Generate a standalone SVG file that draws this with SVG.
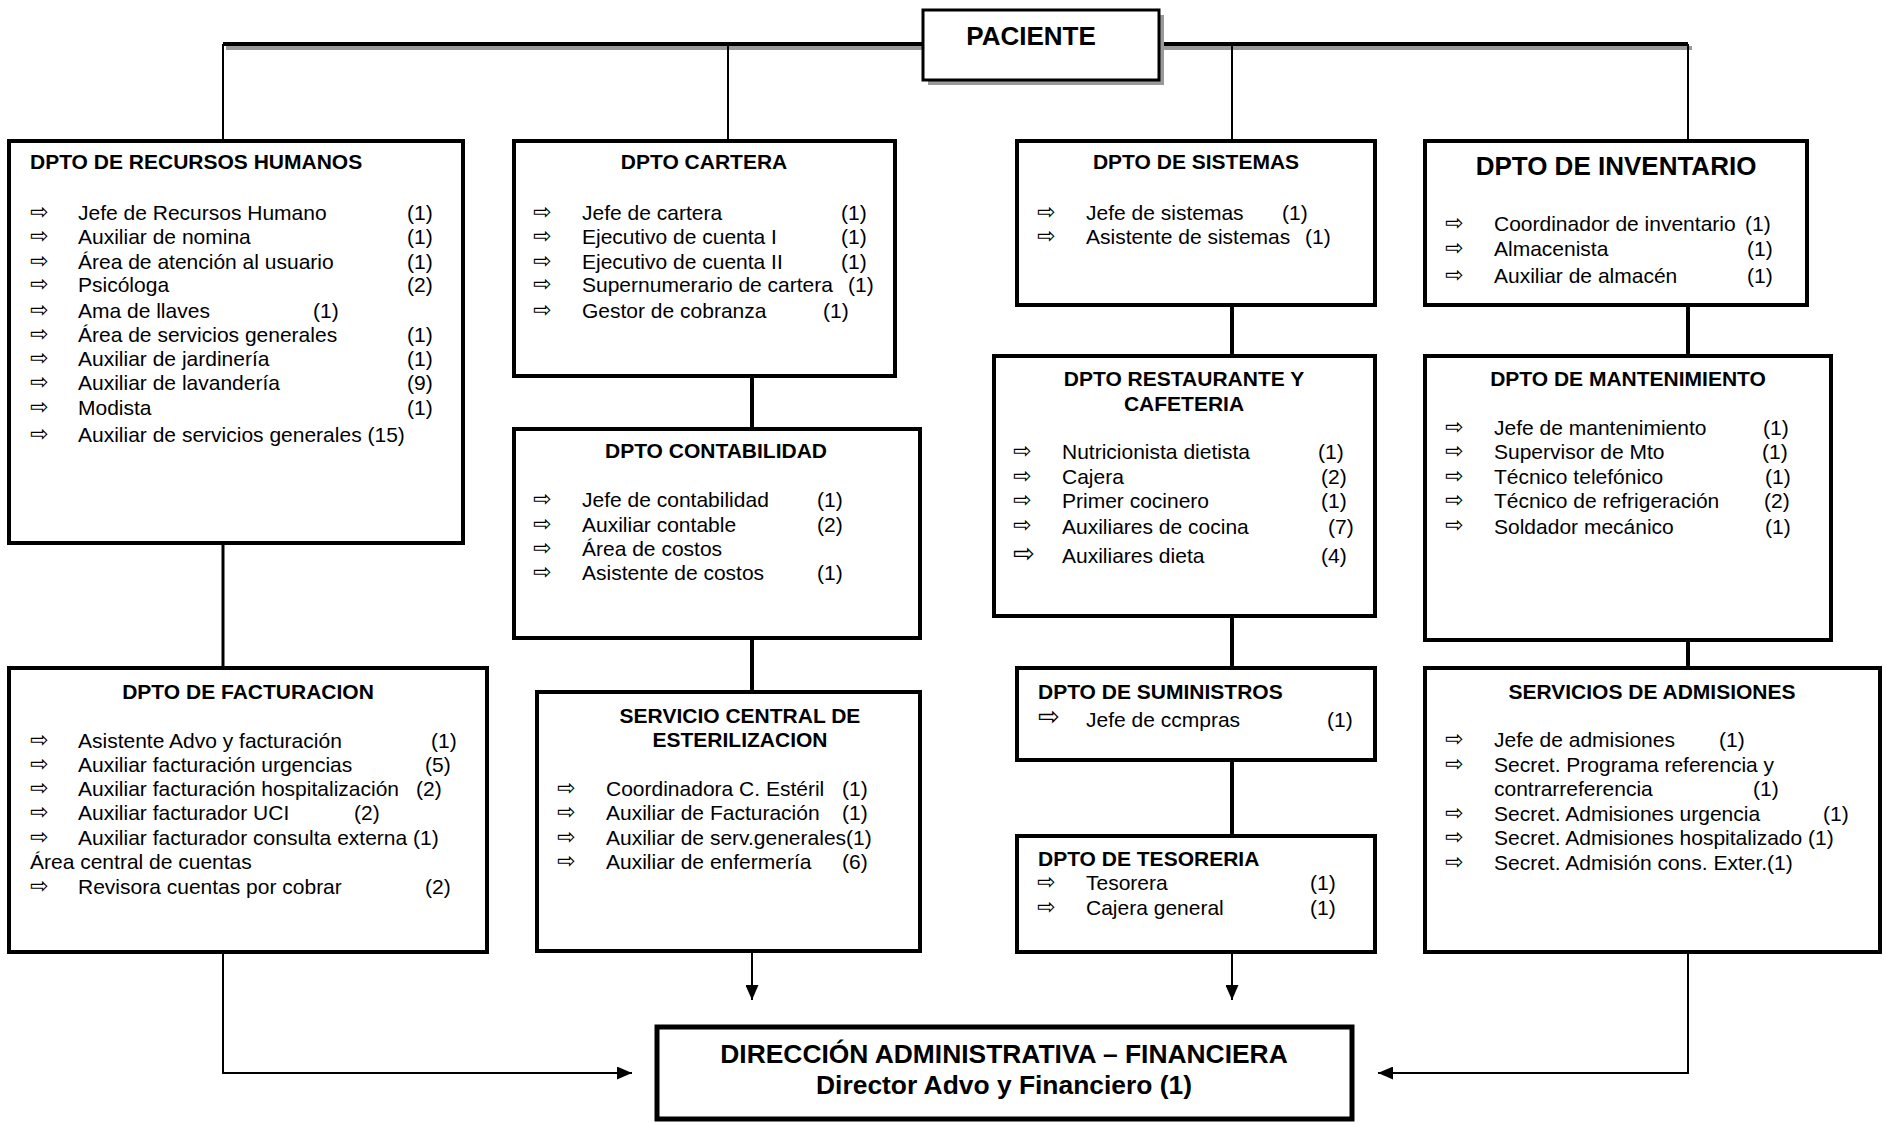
<svg xmlns="http://www.w3.org/2000/svg" width="1887" height="1123" viewBox="0 0 1887 1123">
<style>
.box{fill:#fff;stroke:#000;stroke-width:4}
.t{font-family:"Liberation Sans",Arial,sans-serif;font-size:21px;fill:#000}
.h{font-weight:bold}
.big{font-size:26px;font-weight:bold}
.mid{text-anchor:middle}
.b{font-family:"DejaVu Sans",sans-serif;font-size:22px;fill:#000}
.bb{font-size:26px}
.c{stroke:#000;fill:none}
</style>
<defs>
<marker id="ah" markerUnits="userSpaceOnUse" markerWidth="15" markerHeight="13" refX="15" refY="6.5" orient="auto">
<path d="M0,0 L15,6.5 L0,13 z" fill="#000"/>
</marker>
</defs>

<g id="connectors">
<line x1="226" y1="48" x2="1692" y2="48" stroke="#999" stroke-width="4"/>
<line class="c" x1="223" y1="44" x2="1688" y2="44" stroke-width="4"/>
<line class="c" x1="223" y1="44" x2="223" y2="140" stroke-width="2"/>
<line class="c" x1="728" y1="44" x2="728" y2="140" stroke-width="2"/>
<line class="c" x1="1232" y1="44" x2="1232" y2="140" stroke-width="2"/>
<line class="c" x1="1688" y1="44" x2="1688" y2="140" stroke-width="2"/>
<line class="c" x1="223" y1="545" x2="223" y2="667" stroke-width="3"/>
<line class="c" x1="752" y1="378" x2="752" y2="428" stroke-width="4"/>
<line class="c" x1="752" y1="640" x2="752" y2="691" stroke-width="4"/>
<line class="c" x1="1232" y1="307" x2="1232" y2="355" stroke-width="4"/>
<line class="c" x1="1232" y1="618" x2="1232" y2="667" stroke-width="4"/>
<line class="c" x1="1232" y1="762" x2="1232" y2="835" stroke-width="4"/>
<line class="c" x1="1688" y1="307" x2="1688" y2="355" stroke-width="4"/>
<line class="c" x1="1688" y1="642" x2="1688" y2="667" stroke-width="4"/>
<line class="c" x1="752" y1="953" x2="752" y2="1000" stroke-width="2" marker-end="url(#ah)"/>
<line class="c" x1="1232" y1="954" x2="1232" y2="1000" stroke-width="2" marker-end="url(#ah)"/>
<polyline class="c" points="223,954 223,1073 632,1073" stroke-width="2" marker-end="url(#ah)"/>
<polyline class="c" points="1688,954 1688,1073 1378,1073" stroke-width="2" marker-end="url(#ah)"/>
</g>

<g id="paciente">
<rect x="928" y="15" width="236" height="70" fill="#999"/>
<rect x="923" y="10" width="236" height="70" fill="#fff" stroke="#000" stroke-width="3"/>
<text class="t big mid" x="1031" y="45">PACIENTE</text>
</g>

<g id="rrhh">
<rect class="box" x="9" y="141" width="454" height="402"/>
<text class="t h" x="30" y="169">DPTO DE RECURSOS HUMANOS</text>
<g class="b">
<text x="30" y="219">⇨</text><text x="30" y="243">⇨</text><text x="30" y="268">⇨</text><text x="30" y="291">⇨</text><text x="30" y="317">⇨</text><text x="30" y="341">⇨</text><text x="30" y="365">⇨</text><text x="30" y="389">⇨</text><text x="30" y="414">⇨</text><text x="30" y="441">⇨</text>
</g>
<g class="t">
<text x="78" y="219.5">Jefe de Recursos Humano</text><text x="407" y="219.5">(1)</text>
<text x="78" y="244">Auxiliar de nomina</text><text x="407" y="244">(1)</text>
<text x="78" y="268.5">Área de atención al usuario</text><text x="407" y="268.5">(1)</text>
<text x="78" y="292">Psicóloga</text><text x="407" y="292">(2)</text>
<text x="78" y="317.5">Ama de llaves</text><text x="313" y="317.5">(1)</text>
<text x="78" y="341.5">Área de servicios generales</text><text x="407" y="341.5">(1)</text>
<text x="78" y="366">Auxiliar de jardinería</text><text x="407" y="366">(1)</text>
<text x="78" y="390">Auxiliar de lavandería</text><text x="407" y="390">(9)</text>
<text x="78" y="415">Modista</text><text x="407" y="415">(1)</text>
<text x="78" y="441.5">Auxiliar de servicios generales (15)</text>
</g>
</g>

<g id="cartera">
<rect class="box" x="514" y="141" width="381" height="235"/>
<text class="t h mid" x="704" y="169">DPTO CARTERA</text>
<g class="b">
<text x="533" y="219">⇨</text><text x="533" y="243">⇨</text><text x="533" y="268">⇨</text><text x="533" y="291">⇨</text><text x="533" y="317">⇨</text>
</g>
<g class="t">
<text x="582" y="219.5">Jefe de cartera</text><text x="841" y="219.5">(1)</text>
<text x="582" y="244">Ejecutivo de cuenta I</text><text x="841" y="244">(1)</text>
<text x="582" y="268.5">Ejecutivo de cuenta II</text><text x="841" y="268.5">(1)</text>
<text x="582" y="292">Supernumerario de cartera</text><text x="848" y="292">(1)</text>
<text x="582" y="317.5">Gestor de cobranza</text><text x="823" y="317.5">(1)</text>
</g>
</g>

<g id="contabilidad">
<rect class="box" x="514" y="429" width="406" height="209"/>
<text class="t h mid" x="716" y="457.5">DPTO CONTABILIDAD</text>
<g class="b">
<text x="533" y="506">⇨</text><text x="533" y="531">⇨</text><text x="533" y="555">⇨</text><text x="533" y="579">⇨</text>
</g>
<g class="t">
<text x="582" y="507">Jefe de contabilidad</text><text x="817" y="507">(1)</text>
<text x="582" y="531.5">Auxiliar contable</text><text x="817" y="531.5">(2)</text>
<text x="582" y="556">Área de costos</text>
<text x="582" y="580">Asistente de costos</text><text x="817" y="580">(1)</text>
</g>
</g>

<g id="sistemas">
<rect class="box" x="1017" y="141" width="358" height="164"/>
<text class="t h mid" x="1196" y="169">DPTO DE SISTEMAS</text>
<g class="b">
<text x="1037" y="219">⇨</text><text x="1037" y="243">⇨</text>
</g>
<g class="t">
<text x="1086" y="219.5">Jefe de sistemas</text><text x="1282" y="219.5">(1)</text>
<text x="1086" y="244">Asistente de sistemas</text><text x="1305" y="244">(1)</text>
</g>
</g>

<g id="restaurante">
<rect class="box" x="994" y="356" width="381" height="260"/>
<text class="t h mid" x="1184" y="385.5">DPTO RESTAURANTE Y</text>
<text class="t h mid" x="1184" y="410.5">CAFETERIA</text>
<g class="b">
<text x="1013" y="458">⇨</text><text x="1013" y="483">⇨</text><text x="1013" y="507">⇨</text><text x="1013" y="532">⇨</text><text class="bb" x="1013" y="562">⇨</text>
</g>
<g class="t">
<text x="1062" y="459">Nutricionista dietista</text><text x="1318" y="459">(1)</text>
<text x="1062" y="484">Cajera</text><text x="1321" y="484">(2)</text>
<text x="1062" y="508">Primer cocinero</text><text x="1321" y="508">(1)</text>
<text x="1062" y="533.5">Auxiliares de cocina</text><text x="1328" y="533.5">(7)</text>
<text x="1062" y="562.5">Auxiliares dieta</text><text x="1321" y="562.5">(4)</text>
</g>
</g>

<g id="inventario">
<rect class="box" x="1425" y="141" width="382" height="164"/>
<text class="t big mid" x="1616" y="174.5">DPTO DE INVENTARIO</text>
<g class="b">
<text x="1445" y="230">⇨</text><text x="1445" y="255">⇨</text><text x="1445" y="282">⇨</text>
</g>
<g class="t">
<text x="1494" y="231">Coordinador de inventario</text><text x="1745" y="231">(1)</text>
<text x="1494" y="256">Almacenista</text><text x="1747" y="256">(1)</text>
<text x="1494" y="283">Auxiliar de almacén</text><text x="1747" y="283">(1)</text>
</g>
</g>

<g id="mantenimiento">
<rect class="box" x="1425" y="356" width="406" height="284"/>
<text class="t h mid" x="1628" y="385.5">DPTO DE MANTENIMIENTO</text>
<g class="b">
<text x="1445" y="434">⇨</text><text x="1445" y="458">⇨</text><text x="1445" y="483">⇨</text><text x="1445" y="507">⇨</text><text x="1445" y="532">⇨</text>
</g>
<g class="t">
<text x="1494" y="435">Jefe de mantenimiento</text><text x="1763" y="435">(1)</text>
<text x="1494" y="459">Supervisor de Mto</text><text x="1762" y="459">(1)</text>
<text x="1494" y="484">Técnico telefónico</text><text x="1765" y="484">(1)</text>
<text x="1494" y="508">Técnico de refrigeración</text><text x="1764" y="508">(2)</text>
<text x="1494" y="533.5">Soldador mecánico</text><text x="1765" y="533.5">(1)</text>
</g>
</g>

<g id="facturacion">
<rect class="box" x="9" y="668" width="478" height="284"/>
<text class="t h mid" x="248" y="698.5">DPTO DE FACTURACION</text>
<g class="b">
<text x="30" y="746.5">⇨</text><text x="30" y="770.5">⇨</text><text x="30" y="795">⇨</text><text x="30" y="819">⇨</text><text x="30" y="844">⇨</text><text x="30" y="893">⇨</text>
</g>
<g class="t">
<text x="78" y="747.5">Asistente Advo y facturación</text><text x="431" y="747.5">(1)</text>
<text x="78" y="771.5">Auxiliar facturación urgencias</text><text x="425" y="771.5">(5)</text>
<text x="78" y="796">Auxiliar facturación hospitalización</text><text x="416" y="796">(2)</text>
<text x="78" y="820">Auxiliar facturador UCI</text><text x="354" y="820">(2)</text>
<text x="78" y="845">Auxiliar facturador consulta externa (1)</text>
<text x="30" y="869">Área central de cuentas</text>
<text x="78" y="894">Revisora cuentas por cobrar</text><text x="425" y="894">(2)</text>
</g>
</g>

<g id="esterilizacion">
<rect class="box" x="537" y="692" width="383" height="259"/>
<text class="t h mid" x="740" y="722.5">SERVICIO CENTRAL DE</text>
<text class="t h mid" x="740" y="746.5">ESTERILIZACION</text>
<g class="b">
<text x="557" y="795">⇨</text><text x="557" y="819">⇨</text><text x="557" y="844">⇨</text><text x="557" y="868">⇨</text>
</g>
<g class="t">
<text x="606" y="796">Coordinadora C. Estéril</text><text x="842" y="796">(1)</text>
<text x="606" y="820">Auxiliar de Facturación</text><text x="842" y="820">(1)</text>
<text x="606" y="845">Auxiliar de serv.generales(1)</text>
<text x="606" y="869">Auxiliar de enfermería</text><text x="842" y="869">(6)</text>
</g>
</g>

<g id="suministros">
<rect class="box" x="1017" y="668" width="358" height="92"/>
<text class="t h" x="1038" y="698.5">DPTO DE SUMINISTROS</text>
<text class="b bb" x="1038" y="725">⇨</text>
<text class="t" x="1086" y="726.5">Jefe de ccmpras</text><text class="t" x="1327" y="726.5">(1)</text>
</g>

<g id="tesoreria">
<rect class="box" x="1017" y="836" width="358" height="116"/>
<text class="t h" x="1038" y="865.5">DPTO DE TESORERIA</text>
<g class="b">
<text x="1037" y="889">⇨</text><text x="1037" y="914">⇨</text>
</g>
<g class="t">
<text x="1086" y="890">Tesorera</text><text x="1310" y="890">(1)</text>
<text x="1086" y="915">Cajera general</text><text x="1310" y="915">(1)</text>
</g>
</g>

<g id="admisiones">
<rect class="box" x="1425" y="668" width="455" height="284"/>
<text class="t h mid" x="1652" y="698.5">SERVICIOS DE ADMISIONES</text>
<g class="b">
<text x="1445" y="746">⇨</text><text x="1445" y="770.5">⇨</text><text x="1445" y="820">⇨</text><text x="1445" y="844">⇨</text><text x="1445" y="869">⇨</text>
</g>
<g class="t">
<text x="1494" y="747">Jefe de admisiones</text><text x="1719" y="747">(1)</text>
<text x="1494" y="771.5">Secret. Programa referencia y</text>
<text x="1494" y="796">contrarreferencia</text><text x="1753" y="796">(1)</text>
<text x="1494" y="821">Secret. Admisiones urgencia</text><text x="1823" y="821">(1)</text>
<text x="1494" y="845">Secret. Admisiones hospitalizado (1)</text>
<text x="1494" y="870">Secret. Admisión cons. Exter.(1)</text>
</g>
</g>

<g id="direccion">
<rect x="657" y="1027" width="695" height="92" fill="#fff" stroke="#000" stroke-width="5"/>
<text class="t big mid" x="1004" y="1063" style="font-size:26.4px">DIRECCIÓN ADMINISTRATIVA – FINANCIERA</text>
<text class="t big mid" x="1004" y="1094" style="font-size:26.4px">Director Advo y Financiero (1)</text>
</g>
</svg>
